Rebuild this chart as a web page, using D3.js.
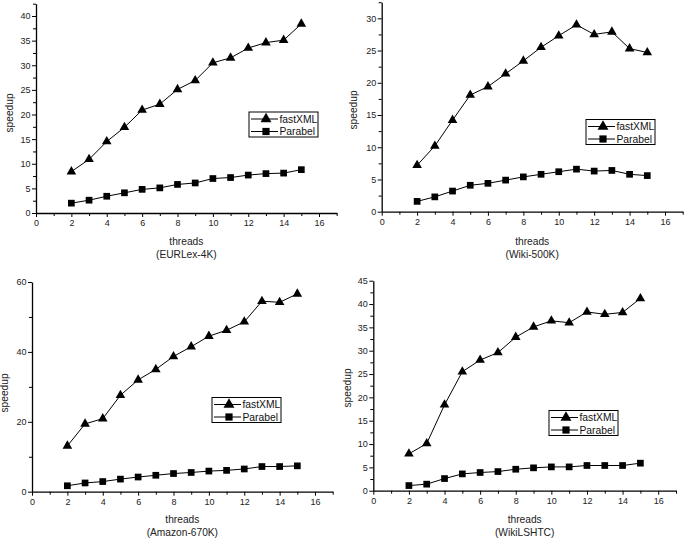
<!DOCTYPE html>
<html><head><meta charset="utf-8">
<script src="https://cdn.jsdelivr.net/npm/d3@7"></script>
<style>
body{margin:0;background:#fff;}
svg{display:block;font-family:"Liberation Sans",Arial,sans-serif;}
</style></head>
<body>
<svg id="chart" width="685" height="538"></svg>
<script>
const threads = [2,3,4,5,6,7,8,9,10,11,12,13,14,15];
const seriesNames = ["fastXML","Parabel"];
const xTicks = [0,2,4,6,8,10,12,14,16];

const eurlexFast = [8.4,10.9,14.5,17.4,20.9,22.1,25.1,26.9,30.5,31.5,33.5,34.6,35.1,38.4];
const eurlexParabel = [2.0,2.6,3.4,4.1,4.8,5.1,5.8,6.1,7.0,7.2,7.7,8.0,8.1,8.8];
const wiki500Fast = [7.2,10.2,14.2,18.1,19.4,21.4,23.4,25.5,27.3,29.0,27.5,27.9,25.3,24.7];
const wiki500Parabel = [1.6,2.3,3.2,4.1,4.4,4.9,5.4,5.8,6.2,6.6,6.3,6.4,5.8,5.6];
const amazonFast = [13.1,19.4,20.9,27.6,32.0,35.0,38.7,41.5,44.5,46.2,48.6,54.5,54.2,56.6];
const amazonParabel = [1.7,2.5,2.9,3.6,4.2,4.7,5.2,5.5,5.9,6.1,6.5,7.2,7.2,7.4];
const lshtcFast = [7.9,10.1,18.4,25.5,28.0,29.6,32.9,35.1,36.4,36.0,38.3,37.8,38.2,41.2];
const lshtcParabel = [1.1,1.4,2.6,3.6,3.9,4.1,4.6,4.9,5.1,5.1,5.4,5.4,5.4,5.9];

const datasetNames = ["(EURLex-4K)","(Wiki-500K)","(Amazon-670K)","(WikiLSHTC)"];
const yTicksEurlex = [0,5,10,15,20,25,30,35,40];
const yTicksWiki500 = [0,5,10,15,20,25,30];
const yTicksAmazon = [0,20,40,60];
const yTicksLshtc = [0,5,10,15,20,25,30,35,40,45];

const panels = [
  {name:datasetNames[0], fast:eurlexFast, par:eurlexParabel, yTicks:yTicksEurlex, yMax:42.5, yMinorStep:2.5,
   xr:[36,336.7], yr:[213,3.7], leg:[249,112], ylab:[9,113], xlabY:241},
  {name:datasetNames[1], fast:wiki500Fast, par:wiki500Parabel, yTicks:yTicksWiki500, yMax:32.5, yMinorStep:2.5,
   xr:[381.7,682.7], yr:[211.7,2.2], leg:[586,119.5], ylab:[353,110], xlabY:241},
  {name:datasetNames[2], fast:amazonFast, par:amazonParabel, yTicks:yTicksAmazon, yMax:60, yMinorStep:10,
   xr:[32,332.7], yr:[491.7,282], leg:[212,397.5], ylab:[4,393], xlabY:519},
  {name:datasetNames[3], fast:lshtcFast, par:lshtcParabel, yTicks:yTicksLshtc, yMax:45, yMinorStep:2.5,
   xr:[373.3,676], yr:[490.7,280.7], leg:[549,410.5], ylab:[347,388], xlabY:519}
];

const svg = d3.select("#chart");
const tri = d3.symbol().type(d3.symbolTriangle).size(40);
const sq = d3.symbol().type(d3.symbolSquare).size(45);
const triL = d3.symbol().type(d3.symbolTriangle).size(52);
const sqL = d3.symbol().type(d3.symbolSquare).size(52);

panels.forEach(p => {
  const x = d3.scaleLinear().domain([0,17]).range(p.xr);
  const y = d3.scaleLinear().domain([0,p.yMax]).range(p.yr);
  const g = svg.append("g");

  // minor ticks
  const xMinor = d3.range(1,18,2);
  g.append("g").attr("transform",`translate(0,${p.yr[0]})`)
    .call(d3.axisBottom(x).tickValues(xMinor).tickSize(3).tickFormat("").tickSizeOuter(0))
    .call(s=>s.select(".domain").remove());
  const yMinorVals = d3.range(0, p.yMax+0.01, p.yMinorStep).filter(v => !p.yTicks.includes(v));
  g.append("g").attr("transform",`translate(${p.xr[0]},0)`)
    .call(d3.axisLeft(y).tickValues(yMinorVals).tickSize(3).tickFormat("").tickSizeOuter(0))
    .call(s=>s.select(".domain").remove());

  // major axes
  const xa = g.append("g").attr("transform",`translate(0,${p.yr[0]})`)
    .call(d3.axisBottom(x).tickValues(xTicks).tickSize(4).tickPadding(3).tickSizeOuter(0));
  const ya = g.append("g").attr("transform",`translate(${p.xr[0]},0)`)
    .call(d3.axisLeft(y).tickValues(p.yTicks).tickSize(4).tickPadding(1.5).tickSizeOuter(0));
  [xa,ya].forEach(a=>{
    a.selectAll("text").attr("font-size",9).attr("font-family","Liberation Sans, Arial, sans-serif").attr("fill","#222");
    a.select(".domain").attr("stroke-width",1.3);
  });
  g.selectAll(".tick line").attr("stroke","#000").attr("stroke-width",1);

  // axis titles
  const cx = (p.xr[0]+p.xr[1])/2;
  g.append("text").attr("x",cx).attr("y",p.xlabY).attr("text-anchor","middle")
    .attr("dominant-baseline","central").attr("font-size",10.2).attr("fill","#222").text("threads");
  g.append("text").attr("x",cx).attr("y",p.xlabY+13).attr("text-anchor","middle")
    .attr("dominant-baseline","central").attr("font-size",10.2).attr("fill","#222").text(p.name);
  g.append("text").attr("transform",`translate(${p.ylab[0]},${p.ylab[1]}) rotate(-90)`)
    .attr("text-anchor","middle").attr("dominant-baseline","central")
    .attr("font-size",10.2).attr("fill","#222").text("speedup");

  // series
  const line = d3.line().x((d,i)=>x(threads[i])).y(d=>y(d));
  [[p.fast,tri],[p.par,sq]].forEach(([vals,sym])=>{
    g.append("path").datum(vals).attr("d",line).attr("fill","none").attr("stroke","#000").attr("stroke-width",1);
    g.selectAll(null).data(vals).enter().append("path")
      .attr("d",sym).attr("transform",(d,i)=>`translate(${x(threads[i])},${y(d)})`).attr("fill","#000");
  });

  // legend
  const [lx,ly] = p.leg;
  const lg = g.append("g").attr("transform",`translate(${lx},${ly})`);
  lg.append("rect").attr("width",69).attr("height",25).attr("fill","#fff").attr("stroke","#000").attr("stroke-width",1);
  [[seriesNames[0],triL,7],[seriesNames[1],sqL,19.5]].forEach(([nm,sym,ry])=>{
    lg.append("line").attr("x1",2).attr("x2",29).attr("y1",ry).attr("y2",ry).attr("stroke","#000");
    lg.append("path").attr("d",sym).attr("transform",`translate(17,${ry})`).attr("fill","#000");
    lg.append("text").attr("x",30.5).attr("y",ry).attr("dominant-baseline","central")
      .attr("font-size",10.3).attr("fill","#111").text(nm);
  });
});
</script>
</body></html>
